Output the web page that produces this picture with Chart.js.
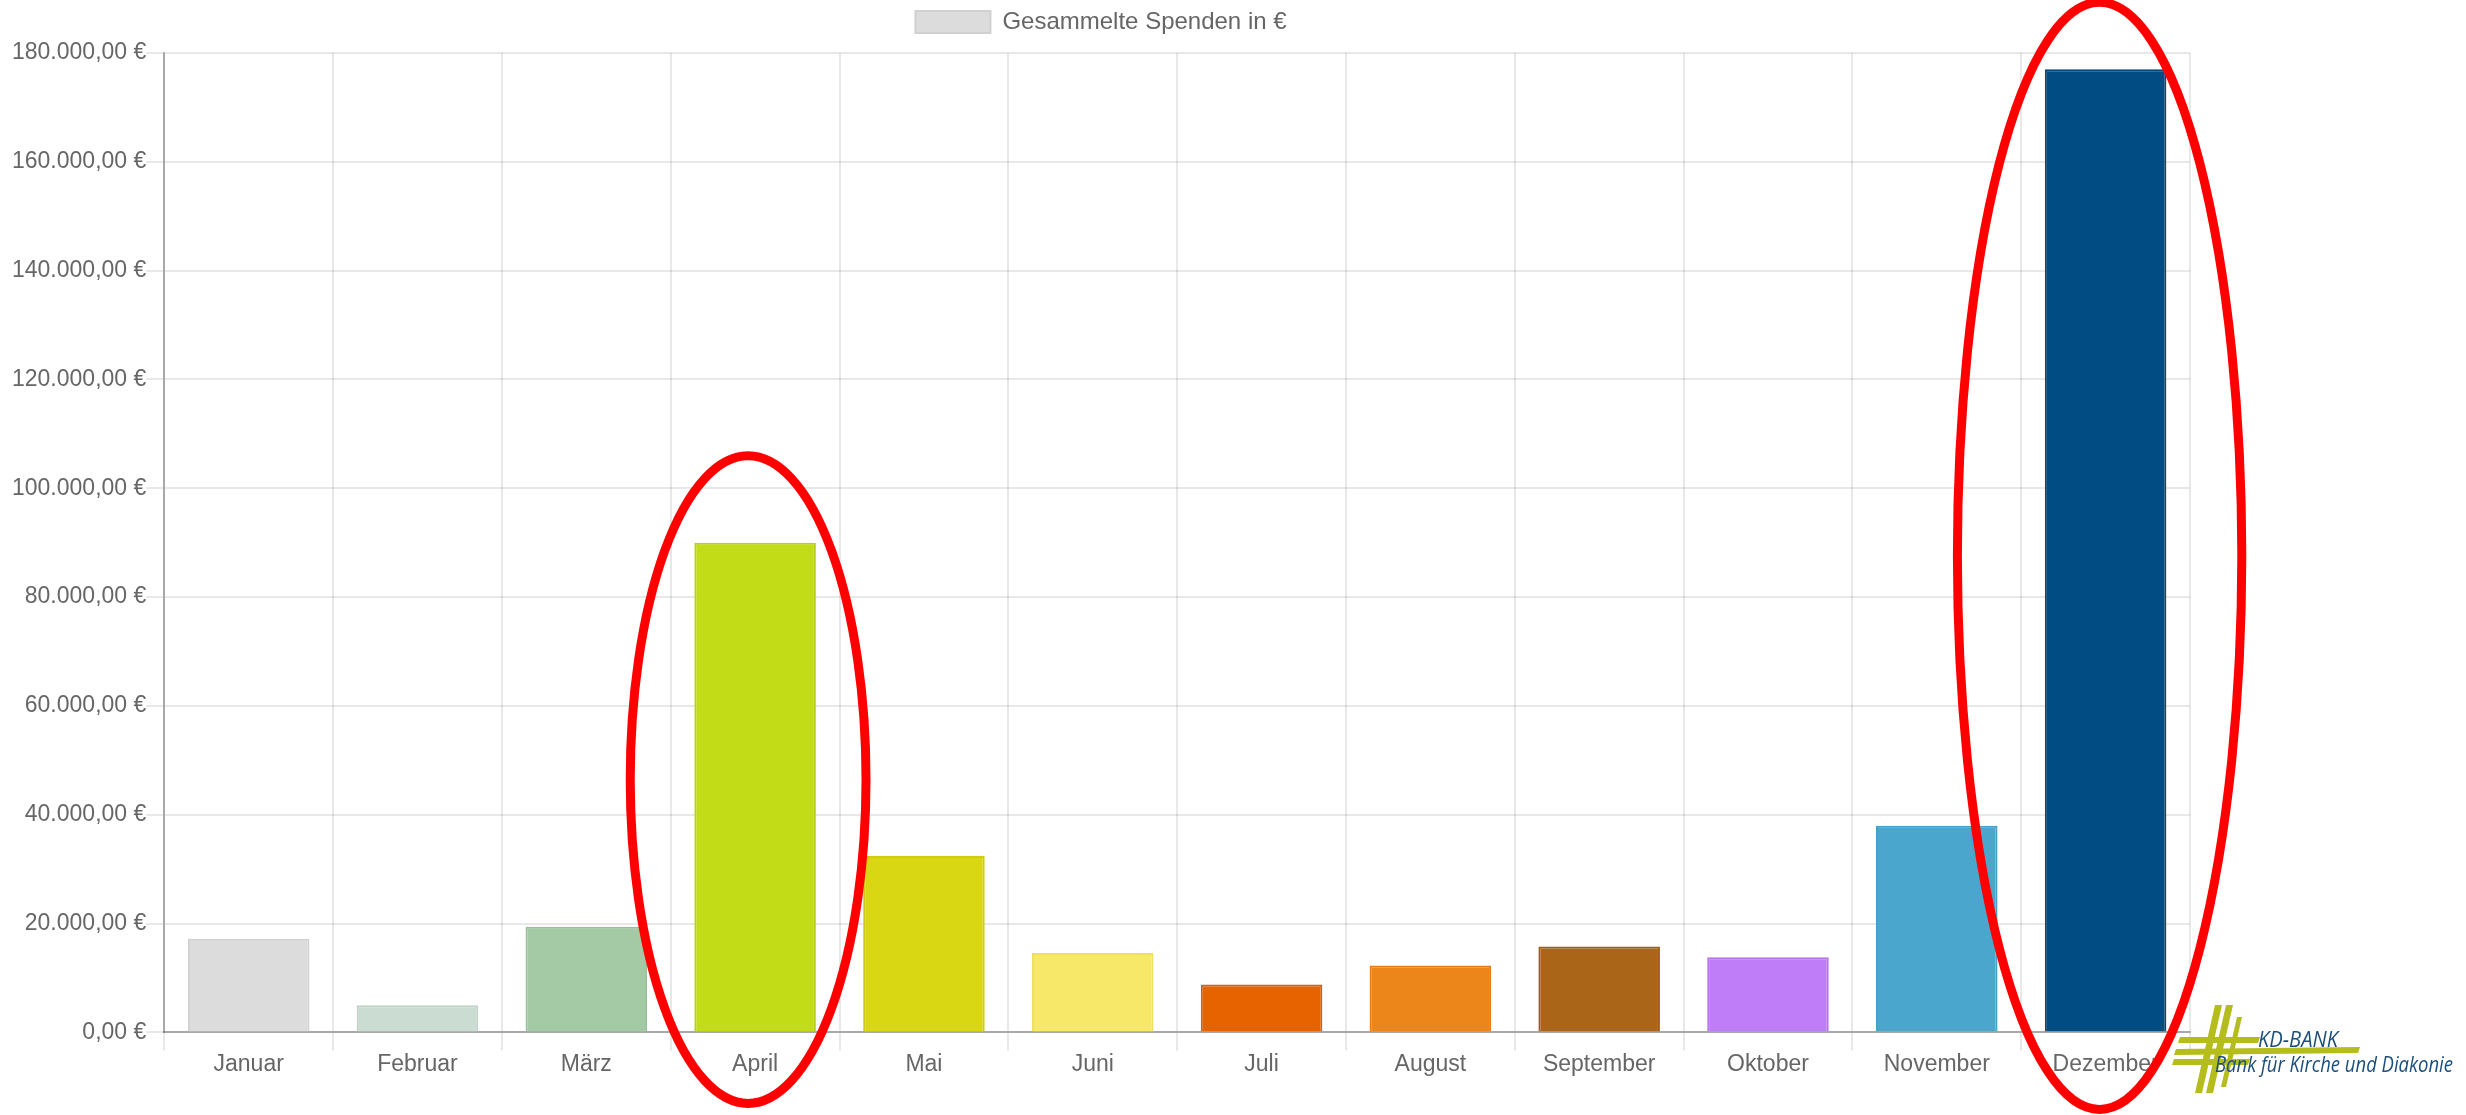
<!DOCTYPE html>
<html lang="de">
<head>
  <meta charset="UTF-8">
  <title>Gesammelte Spenden</title>
  <script src="https://cdn.jsdelivr.net/npm/chart.js"></script>
  <style>
    body {
      margin: 0;
      background: #ffffff;
      font-family: "Liberation Sans", Arial, sans-serif;
    }
    #wrap {
      position: relative;
      width: 2466px;
      height: 1115px;
    }
    #logo {
      position: absolute;
      left: 2170px;
      top: 995px;
    }
  </style>
</head>
<body>
  <div id="wrap">
    <canvas id="grafik" width="2466" height="1115"></canvas>
    <svg id="logo" width="296" height="105" viewBox="0 0 296 105">
      <!-- Kreuz -->
      <g fill="#b4bd1c">
        <polygon points="45,10 52,10 32,98 25,98"/>
        <polygon points="56,10 63,10 43,98 36,98"/>
        <polygon points="67,22 72,22 56,92 51,92"/>
        <polygon points="10,42 90,42 88,48 8,48"/>
        <polygon points="6,54 190,52 188,58 4,60"/>
        <polygon points="4,64 80,64 78,70 2,70"/>
      </g>
      <text x="88" y="52" textLength="80" lengthAdjust="spacingAndGlyphs"
            font-family="Open Sans" font-style="italic" font-size="21" fill="#1c4e7b">KD-BANK</text>
      <text x="45" y="77" textLength="238" lengthAdjust="spacingAndGlyphs"
            font-family="Open Sans" font-style="italic" font-size="21" fill="#1c4e7b">Bank für Kirche und Diakonie</text>
    </svg>
  </div>

  <script>
    const monate = ["Januar", "Februar", "März", "April", "Mai", "Juni",
                    "Juli", "August", "September", "Oktober", "November", "Dezember"];
    const spenden = [17200, 5000, 19400, 90000, 32400, 14600,
                     8800, 12300, 15800, 13800, 38000, 177000];
    const farben = ["#dcdcdc", "#cbddd3", "#a3c9a5", "#c2dc17", "#d9d714", "#f7e86a",
                    "#e76300", "#ec851a", "#aa6519", "#bf7df8", "#4ba6ce", "#014c82"];
    const randFarben = ["#d0d0d0", "#bed3c7", "#97bf99", "#b8d20f", "#cfcd0e", "#efdf60",
                        "#de5c00", "#e47d14", "#a05e15", "#b675ee", "#44a0c8", "#01487c"];
    const yMax = 180000;
    const yStep = 20000;
    // markierte Monate (rote Ellipsen)
    const markiert = ["April", "Dezember"];

    function euro(v) {
      const s = Math.round(v).toString().replace(/\B(?=(\d{3})+(?!\d))/g, ".");
      return s + ",00 €";
    }

    // etwas mehr Abstand unter der Legende
    const legendeAbstand = {
      id: "legendeAbstand",
      beforeInit(chart) {
        const fit = chart.legend.fit;
        chart.legend.fit = function () {
          fit.bind(chart.legend)();
          this.height += 9;
        };
      }
    };

    const ellipsen = {
      id: "ellipsen",
      afterDraw(chart) {
        const ctx = chart.ctx;
        const meta = chart.getDatasetMeta(0);
        const area = chart.chartArea;
        markiert.forEach(m => {
          const i = monate.indexOf(m);
          const bar = meta.data[i];
          const w = bar.width;
          let top, bottom, rx, cx;
          if (m === "Dezember") {
            top = bar.y - 67;
            bottom = area.bottom + 77;
            rx = w * 1.17;
            cx = bar.x - 6;
          } else {
            top = bar.y - 87;
            bottom = area.bottom + 71;
            rx = w * 0.97;
            cx = bar.x - 7;
          }
          ctx.save();
          ctx.beginPath();
          ctx.ellipse(cx, (top + bottom) / 2, rx, (bottom - top) / 2, 0, 0, Math.PI * 2);
          ctx.strokeStyle = "#ff0000";
          ctx.lineWidth = 9;
          ctx.stroke();
          ctx.restore();
        });
      }
    };

    const ctx = document.getElementById("grafik").getContext("2d");
    new Chart(ctx, {
      type: "bar",
      data: {
        labels: monate,
        datasets: [{
          label: "Gesammelte Spenden in €",
          data: spenden,
          backgroundColor: farben,
          borderColor: randFarben,
          borderWidth: 2
        }]
      },
      options: {
        responsive: false,
        animation: false,
        devicePixelRatio: 1,
        layout: {
          padding: { left: 12, right: 276, top: 0, bottom: 37 }
        },
        plugins: {
          tooltip: { enabled: false },
          legend: {
            labels: {
              boxWidth: 75,
              boxHeight: 22,
              padding: 10,
              color: "#666666",
              font: { family: "Liberation Sans", size: 24 },
              generateLabels: () => [{
                text: "Gesammelte Spenden in €",
                fillStyle: farben[0],
                strokeStyle: randFarben[0],
                fontColor: "#666666",
                lineWidth: 2,
                datasetIndex: 0
              }]
            }
          }
        },
        scales: {
          x: {
            grid: {
              color: "rgba(0,0,0,0.09)",
              lineWidth: 2,
              tickLength: 18
            },
            border: { color: "rgba(0,0,0,0.28)", width: 2 },
            ticks: {
              color: "#666666",
              padding: 0,
              font: { family: "Liberation Sans", size: 23 }
            }
          },
          y: {
            min: 0,
            max: yMax,
            grid: {
              color: "rgba(0,0,0,0.09)",
              lineWidth: 2,
              tickLength: 18
            },
            border: { color: "rgba(0,0,0,0.28)", width: 2 },
            ticks: {
              stepSize: yStep,
              color: "#666666",
              padding: 0,
              font: { family: "Liberation Sans", size: 23 },
              callback: v => euro(v)
            }
          }
        }
      },
      plugins: [legendeAbstand, ellipsen]
    });
  </script>
</body>
</html>
